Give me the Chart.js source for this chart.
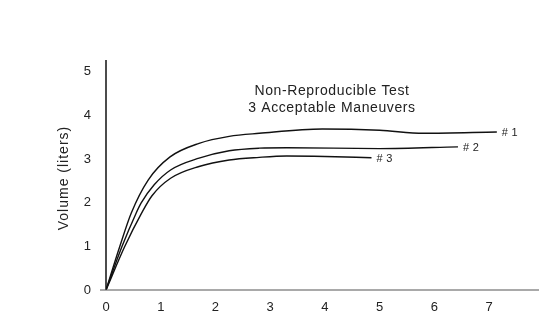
<!DOCTYPE html>
<html><head><meta charset="utf-8">
<script src="https://cdn.jsdelivr.net/npm/chart.js@4/dist/chart.umd.min.js"></script>
<style>html,body{margin:0;padding:0;background:#fff}#wrap{width:539px;height:318px}</style>
</head><body><div id="wrap"><canvas id="c"></canvas></div>
<script>
const xTicks = [0,1,2,3,4,5,6,7];
const yTicks = [0,1,2,3,4,5];
const seriesNames = ["# 1","# 2","# 3"];
const x1 = [0, 0.25, 0.46, 0.77, 1.17, 1.70, 2.25, 2.80, 3.95, 5.0, 5.8, 7.14];
const y1 = [0, 0.99, 1.76, 2.52, 3.05, 3.36, 3.52, 3.59, 3.69, 3.66, 3.59, 3.62];
const x2 = [0, 0.29, 0.55, 0.64, 0.88, 1.18, 1.70, 2.25, 2.80, 3.3, 5.0, 6.43];
const y2 = [0, 0.99, 1.76, 1.99, 2.41, 2.75, 3.02, 3.19, 3.25, 3.26, 3.24, 3.28];
const x3 = [0, 0.34, 0.65, 0.84, 1.18, 1.70, 2.25, 2.80, 3.3, 4.0, 4.85];
const y3 = [0, 0.99, 1.76, 2.16, 2.56, 2.83, 2.98, 3.04, 3.07, 3.06, 3.03];
const titleLines = ["Non-Reproducible Test","3 Acceptable Maneuvers"];
const yTitle = "Volume (liters)";

const FONT = "'Liberation Sans', Arial, sans-serif";
const pts = (xs, ys) => xs.map((x,i)=>({x, y: ys[i]}));
const mk = (xs, ys, name) => ({label: name, data: pts(xs, ys), borderColor:'#111', borderWidth:1.4,
  pointRadius:0, fill:false, cubicInterpolationMode:'monotone'});

const deco = {
  id:'deco',
  afterDraw(chart){
    const {ctx, chartArea:a, scales:{x, y}} = chart;
    ctx.save();
    ctx.strokeStyle='#111'; ctx.lineWidth=1.5;
    ctx.beginPath(); ctx.moveTo(a.left, a.top); ctx.lineTo(a.left, a.bottom); ctx.stroke();
    ctx.strokeStyle='#555'; ctx.lineWidth=1.2;
    ctx.beginPath(); ctx.moveTo(a.left-6, a.bottom); ctx.lineTo(a.right, a.bottom); ctx.stroke();
    ctx.fillStyle='#222'; ctx.font='11px '+FONT; ctx.textBaseline='middle'; ctx.textAlign='left';
    ctx.letterSpacing='0.3px';
    chart.data.datasets.forEach(ds=>{
      const p = ds.data[ds.data.length-1];
      ctx.fillText(ds.label, x.getPixelForValue(p.x)+5, y.getPixelForValue(p.y)+1);
    });
    ctx.font='14px '+FONT; ctx.textAlign='center'; ctx.fillStyle='#222';
    ctx.letterSpacing='0.6px';
    const cx = 332;
    ctx.fillText(titleLines[0], cx, 91);
    ctx.fillText(titleLines[1], cx, 108);
    ctx.translate(64, 178); ctx.rotate(-Math.PI/2);
    ctx.letterSpacing='1px';
    ctx.font='14px '+FONT; ctx.fillText(yTitle, 0, 0);
    ctx.restore();
  }
};

new Chart(document.getElementById('c'), {
  type:'line',
  data:{datasets:[mk(x1,y1,seriesNames[0]), mk(x2,y2,seriesNames[1]), mk(x3,y3,seriesNames[2])]},
  options:{
    responsive:true, maintainAspectRatio:false, animation:false,
    layout:{padding:{top:60, right:0, left:0, bottom:0}},
    plugins:{legend:{display:false}, tooltip:{enabled:false}},
    scales:{
      x:{type:'linear', min:0, max:7.91,
        afterBuildTicks(s){ s.ticks = xTicks.map(v=>({value:v})); },
        afterFit(s){ s.height = 28; },
        grid:{display:false, drawTicks:false}, border:{display:false},
        ticks:{color:'#222', font:{size:13, family:FONT}, padding:10, maxRotation:0}},
      y:{type:'linear', min:0, max:5.27,
        afterBuildTicks(s){ s.ticks = yTicks.map(v=>({value:v})); },
        afterFit(s){ s.width = 106; },
        grid:{display:false, drawTicks:false}, border:{display:false},
        ticks:{color:'#222', font:{size:13, family:FONT}, padding:15}}
    }
  },
  plugins:[deco]
});
</script></body></html>
